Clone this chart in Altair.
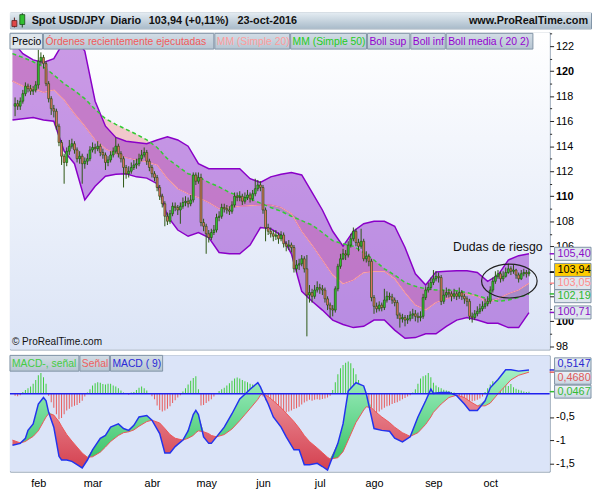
import altair as alt
import pandas as pd

# ---------------- data ----------------
FIRST = -9            # trading-day index of first candle (0 = 1 Feb 2016)
OPEN0 = 117.2
close = [117.4, 117.2, 117.6, 118.2, 118.8, 118.6, 118.4, 118.5, 118.9,
         120.8, 121.1, 120.6, 119.0, 117.8, 117.0, 116.8, 115.6, 114.3, 113.2,
         112.7, 113.6, 114.0, 114.2, 113.7, 113.0, 113.2, 112.6, 112.8, 113.0,
         113.7, 113.9, 113.8, 114.0, 113.5, 113.3, 112.7, 112.9, 113.3, 113.6,
         114.0, 113.4, 113.0, 112.3, 111.8, 112.0, 112.3, 112.5, 112.6, 113.0,
         113.3, 113.5, 112.8, 112.3, 111.8, 111.5, 110.7, 110.0, 109.4, 108.4,
         108.0, 108.6, 109.2, 109.1, 108.9, 109.2, 109.5, 109.6, 109.4, 109.7,
         111.7, 111.2, 111.5, 107.9, 107.6, 107.0, 106.7, 107.1, 107.3, 108.3,
         108.4, 109.1, 109.0, 108.9, 108.8, 109.3, 110.0, 109.9, 110.0, 109.6,
         109.9, 110.1, 109.8, 110.2, 110.6, 110.9, 110.7, 108.9, 107.5, 107.2,
         107.0, 106.8, 106.9, 106.6, 106.9, 106.2, 106.0, 106.1, 105.9, 104.2,
         104.5, 104.6, 105.0, 104.2, 102.1, 102.3, 102.0, 102.5, 102.7, 102.6,
         102.5, 101.8, 101.3, 101.0, 100.9, 102.6, 104.4, 105.0, 105.4, 105.3,
         106.1, 106.6, 107.2, 106.3, 106.0, 106.4, 105.0, 105.2, 104.8, 101.9,
         101.2, 101.0, 101.3, 101.1, 101.7, 102.0, 101.95, 101.7, 101.5, 100.5,
         100.2, 100.3, 100.1, 100.2, 100.5, 100.6, 100.4, 100.3, 100.4, 101.9,
         102.5, 102.7, 103.1, 103.4, 103.6, 103.5, 101.6, 102.1, 102.3, 102.2,
         102.0, 102.2, 102.0, 102.3, 102.0, 101.8, 101.6, 100.4, 100.3, 100.6,
         100.8, 101.0, 101.2, 101.4, 101.6, 102.5, 103.2, 103.6, 103.8, 103.4,
         103.6, 103.9, 104.2, 104.0, 104.1, 103.7, 103.4, 103.8, 103.9, 103.8, 103.94]
high = [117.9, 117.7, 117.9, 118.5, 119.1, 119.0, 118.9, 118.8, 119.2,
        121.7, 121.5, 121.3, 120.8, 119.2, 118.0, 117.3, 117.0, 115.8, 114.5,
        113.4, 113.9, 114.5, 114.6, 114.4, 113.9, 113.6, 113.4, 113.1, 113.4,
        114.0, 114.3, 114.2, 114.4, 114.2, 113.8, 113.5, 113.2, 113.6, 113.9,
        114.7, 114.2, 113.6, 113.2, 112.5, 112.4, 112.7, 112.9, 113.0, 113.4,
        113.7, 113.9, 113.7, 113.0, 112.5, 112.0, 111.7, 110.9, 110.2, 109.6,
        108.7, 108.9, 109.5, 109.5, 109.3, 109.5, 109.9, 110.0, 109.9, 110.1,
        111.9, 111.9, 111.9, 111.8, 108.2, 107.8, 107.3, 107.4, 107.7, 108.6,
        108.8, 109.4, 109.4, 109.3, 109.2, 109.6, 110.3, 110.3, 110.4, 110.2,
        110.3, 110.5, 110.3, 110.5, 111.4, 111.3, 111.2, 110.9, 109.1, 107.8,
        107.5, 107.3, 107.3, 107.1, 107.2, 107.1, 106.4, 106.5, 106.3, 106.1,
        104.9, 105.0, 105.3, 105.2, 105.3, 102.9, 102.6, 102.9, 103.2, 103.0,
        102.9, 102.7, 102.0, 101.5, 101.3, 102.8, 104.6, 105.4, 105.8, 105.7,
        106.4, 107.0, 107.5, 107.4, 106.6, 107.4, 106.6, 105.6, 105.4, 105.0,
        102.1, 101.5, 101.6, 101.5, 102.6, 102.4, 102.3, 102.2, 101.9, 101.7,
        100.7, 100.6, 100.5, 100.5, 100.8, 101.0, 100.9, 100.7, 100.8, 102.2,
        102.8, 103.1, 103.5, 104.1, 104.0, 103.9, 103.7, 102.5, 102.7, 102.6,
        102.4, 102.6, 102.4, 102.7, 102.5, 102.2, 102.0, 101.8, 100.7, 100.9,
        101.2, 101.4, 101.6, 101.8, 102.0, 102.8, 103.5, 104.0, 104.1, 104.0,
        104.0, 104.3, 104.6, 104.4, 104.5, 104.2, 103.9, 104.1, 104.2, 104.1, 104.2]
low = [116.4, 116.9, 116.9, 117.4, 118.0, 118.3, 118.1, 118.1, 118.3,
       118.6, 120.5, 120.2, 118.8, 117.5, 116.5, 116.3, 115.3, 114.0, 112.5,
       111.0, 112.4, 113.3, 113.8, 113.4, 112.7, 112.6, 111.0, 112.2, 112.5,
       112.8, 113.5, 113.4, 113.6, 113.2, 113.0, 112.1, 112.4, 112.7, 113.1,
       113.4, 113.1, 112.7, 110.7, 111.4, 111.5, 111.8, 112.1, 112.2, 112.4,
       112.8, 113.1, 112.5, 112.0, 111.5, 111.2, 110.4, 109.7, 109.1, 107.6,
       107.7, 107.8, 108.4, 108.8, 108.5, 107.8, 109.0, 109.2, 109.1, 109.2,
       109.5, 110.9, 111.0, 107.6, 107.2, 105.4, 106.3, 106.5, 106.9, 107.1,
       108.0, 108.2, 108.7, 108.6, 108.5, 108.6, 109.1, 109.6, 109.6, 109.3,
       109.4, 109.7, 109.5, 109.6, 110.0, 110.4, 110.4, 108.6, 106.4, 106.9,
       106.7, 106.4, 106.5, 106.2, 106.4, 105.9, 105.6, 105.7, 105.5, 103.9,
       103.9, 104.1, 104.4, 103.9, 98.8, 101.5, 101.5, 101.8, 102.3, 102.2,
       102.1, 101.5, 100.9, 100.3, 100.4, 100.7, 102.4, 104.2, 104.9, 104.9,
       105.1, 105.9, 106.4, 106.0, 105.6, 105.8, 104.8, 104.7, 104.4, 101.6,
       100.6, 100.7, 100.8, 100.8, 100.9, 101.5, 101.7, 101.4, 101.2, 100.2,
       99.5, 99.9, 99.6, 99.8, 100.0, 100.2, 100.0, 99.9, 100.0, 100.2,
       101.7, 102.3, 102.5, 102.9, 103.2, 103.1, 101.3, 101.4, 101.9, 101.9,
       101.6, 101.8, 101.7, 101.8, 101.7, 101.4, 101.2, 100.1, 99.9, 100.1,
       100.4, 100.6, 100.8, 101.0, 101.2, 101.4, 102.3, 103.0, 103.4, 103.1,
       103.2, 103.5, 103.8, 103.7, 103.8, 103.4, 103.1, 103.3, 103.6, 103.5, 103.6]

band_idx = list(range(-10, 191, 4))
boll_sup = [122.4, 121.4, 120.9, 120.7, 121.0, 122.4, 122.7, 121.6, 117.6, 115.6,
            114.7, 114.4, 114.3, 114.2, 114.5, 114.75, 114.5, 114.0, 112.6, 112.2,
            112.2, 112.2, 112.2, 111.4, 111.1, 111.55, 111.75, 111.9, 111.7, 110.3,
            108.9, 107.2, 106.0, 107.2, 107.8, 108.0, 108.0, 107.6, 105.9, 103.8,
            102.9, 103.95, 104.0, 104.05, 104.05, 103.9, 103.2, 103.7, 104.9, 105.25, 105.4]
boll_inf = [116.1, 116.2, 116.3, 116.1, 116.0, 113.6, 112.6, 109.7, 110.8, 111.6,
            111.75, 111.8, 111.55, 111.45, 111.0, 108.4, 107.3, 106.8, 107.1, 106.7,
            105.5, 105.4, 105.4, 106.1, 107.5, 107.4, 106.9, 105.4, 102.4, 101.6,
            100.9, 100.1, 99.75, 99.5, 99.6, 100.1, 100.1, 99.3, 98.65, 98.7,
            99.0, 99.0, 99.6, 100.1, 100.3, 100.1, 99.85, 99.85, 99.5, 99.5, 100.7]
boll_mid = [119.2, 118.8, 118.6, 118.3, 118.5, 117.7, 116.6, 115.6, 114.5, 113.8,
            113.4, 113.1, 112.9, 112.75, 112.5, 111.4, 110.6, 110.2, 109.9, 109.5,
            109.0, 109.1, 109.2, 109.25, 109.3, 109.3, 109.1, 108.6, 107.2, 106.1,
            104.9, 103.7, 103.0, 103.3, 103.9, 104.0, 104.0, 103.4, 102.3, 101.3,
            100.9, 101.5, 101.8, 102.1, 102.2, 102.0, 101.5, 101.8, 102.2, 102.5, 103.05]
sma50 = [121.4, 121.1, 120.75, 120.35, 119.7, 119.0, 118.45, 117.8, 116.95, 116.2,
         115.75, 115.35, 114.95, 114.5, 113.9, 113.0, 112.4, 111.8, 111.55, 111.1,
         110.75, 110.3, 110.0, 109.8, 109.45, 109.1, 108.8, 108.4, 108.05, 107.7,
         107.1, 106.45, 106.2, 106.0, 105.5, 104.9, 104.2, 103.7, 103.1, 102.8,
         102.6, 102.5, 102.5, 102.45, 102.3, 102.05, 101.8, 101.6, 101.7, 101.9, 102.19]

macd_idx = [-10, -7, -5, -4, -2, 0, 2, 3, 4, 6,
            8, 9, 11, 13, 15, 17, 19, 21, 24, 26,
            28, 31, 33, 35, 37, 39, 42, 44, 47, 49,
            51, 53, 56, 58, 60, 61, 62, 64, 66, 67,
            69, 72, 75, 78, 80, 82, 85, 86, 87, 89,
            91, 94, 96, 99, 101, 103, 105, 108, 110, 112,
            113, 116, 118, 120, 123, 126, 127, 129, 130, 133,
            136, 138, 141, 144, 147, 150, 152, 153, 156, 159,
            162, 165, 167, 170, 173, 175, 178, 181, 183, 186, 190]
macd_line = [-1.11, -1.07, -0.96, -0.79, -0.65, -0.22, -0.08, -0.15, -0.40, -0.72,
             -1.35, -1.43, -1.43, -1.46, -1.53, -1.60, -1.43, -1.21, -0.96, -0.90,
             -0.72, -0.65, -0.75, -0.79, -0.68, -0.50, -0.47, -0.57, -0.86, -1.28,
             -1.28, -1.14, -1.00, -0.80, -0.45, -0.36, -0.45, -0.93, -1.07, -1.07,
             -0.93, -0.72, -0.43, -0.11, -0.01, 0.10, 0.24, 0.15, 0.02, -0.22,
             -0.50, -0.72, -0.93, -1.21, -1.21, -1.53, -1.53, -1.50, -1.57, -1.65,
             -1.50, -1.07, -0.65, 0.06, 0.24, 0.17, 0.00, -0.50, -0.75, -0.79,
             -0.81, -0.96, -1.04, -0.93, -0.50, -0.15, 0.10, 0.01, 0.03, 0.03,
             -0.04, -0.22, -0.36, -0.36, -0.15, 0.13, 0.31, 0.52, 0.52, 0.49, 0.5147]
signal_line = [-1.00, -1.06, -1.03, -0.99, -0.92, -0.80, -0.60, -0.50, -0.43, -0.46,
               -0.60, -0.70, -0.88, -1.02, -1.15, -1.28, -1.37, -1.36, -1.26, -1.15,
               -1.03, -0.90, -0.84, -0.82, -0.78, -0.70, -0.60, -0.57, -0.63, -0.75,
               -0.88, -0.96, -1.00, -0.96, -0.90, -0.84, -0.80, -0.82, -0.86, -0.90,
               -0.93, -0.88, -0.76, -0.58, -0.45, -0.32, -0.12, -0.03, 0.00, -0.06,
               -0.15, -0.30, -0.42, -0.60, -0.74, -0.90, -1.03, -1.17, -1.27, -1.37,
               -1.41, -1.38, -1.25, -1.00, -0.62, -0.35, -0.28, -0.30, -0.36, -0.50,
               -0.62, -0.72, -0.84, -0.92, -0.84, -0.66, -0.50, -0.40, -0.22, -0.08,
               -0.03, -0.08, -0.16, -0.26, -0.26, -0.20, 0.00, 0.18, 0.30, 0.40, 0.468]
hist = [-0.04, -0.05, -0.03, 0.04, 0.08, 0.12, 0.16, 0.22, 0.30,
        0.40, 0.45, 0.36, 0.22, -0.04, -0.18, -0.30, -0.44, -0.55, -0.52,
        -0.44, -0.36, -0.32, -0.28, -0.26, -0.24, -0.20, -0.15, -0.06, 0.03,
        0.10, 0.18, 0.23, 0.25, 0.24, 0.21, 0.20, 0.22, 0.22, 0.18,
        0.16, 0.12, 0.07, 0.03, 0.02, -0.02, 0.03, 0.04, 0.08, 0.13,
        0.16, 0.12, 0.07, 0.02, -0.05, -0.12, -0.25, -0.35, -0.38, -0.36,
        -0.32, -0.27, -0.20, -0.14, -0.08, -0.03, 0.05, 0.12, 0.20, 0.28,
        0.34, 0.38, 0.10, -0.25, -0.24, -0.20, -0.16, -0.12, -0.06, 0.02,
        0.06, 0.10, 0.13, 0.18, 0.23, 0.28, 0.33, 0.35, 0.33, 0.30,
        0.27, 0.25, 0.22, 0.20, 0.17, 0.14, 0.08, -0.06, -0.14, -0.20,
        -0.26, -0.31, -0.30, -0.33, -0.37, -0.39, -0.40, -0.38, -0.36, -0.33,
        -0.31, -0.28, -0.23, -0.19, -0.16, -0.13, -0.15, -0.13, -0.12, -0.13,
        -0.11, -0.10, -0.08, -0.04, 0.08, 0.25, 0.42, 0.55, 0.62, 0.67,
        0.70, 0.66, 0.55, 0.42, 0.30, 0.15, 0.04, -0.06, -0.18, -0.30,
        -0.38, -0.42, -0.38, -0.34, -0.30, -0.27, -0.25, -0.22, -0.20, -0.18,
        -0.15, -0.12, -0.09, -0.06, -0.03, 0.03, 0.10, 0.22, 0.33, 0.38,
        0.40, 0.45, 0.36, 0.24, 0.18, 0.14, 0.12, 0.09, 0.07, 0.06,
        0.04, 0.03, 0.01, -0.05, -0.10, -0.15, -0.19, -0.20, -0.16, -0.15,
        -0.13, -0.10, -0.06, 0.04, 0.12, 0.20, 0.27, 0.26, 0.23, 0.22,
        0.25, 0.20, 0.17, 0.21, 0.14, 0.11, 0.09, 0.07, 0.05, 0.04, 0.0467]

month_idx = [0, 21, 44, 65, 87, 109, 130, 153, 175]
month_lab = ['feb', 'mar', 'abr', 'may', 'jun', 'jul', 'ago', 'sep', 'oct']

price_last = [105.40, 103.94, 103.05, 102.19, 100.71]
price_last_txt = ['105,40', '103,94', '103,05', '102,19', '100,71']
price_last_col = ['#8a10c8', '#000000', '#ff8c8c', '#2db82d', '#8a10c8']
price_last_fill = ['#dfe6ee', '#ffcc00', '#dfe6ee', '#dfe6ee', '#dfe6ee']
macd_last = [0.5147, 0.4680, 0.0467]
macd_last_txt = ['0,5147', '0,4680', '0,0467']
macd_last_col = ['#2a2ad0', '#e05a5a', '#33bb33']

# ---------------- layout ----------------
W, HP, HM, HH, HW = 548, 322, 118, 16, 590
XD = [-9.07, 196.1]
PD = [97.75, 123.1]
MD = [-1.68, 0.83]
FONT = 'Liberation Sans'


def grad(c0, c1):
    return alt.Gradient(gradient='linear',
                        stops=[alt.GradientStop(color=c0, offset=0),
                               alt.GradientStop(color=c1, offset=1)],
                        x1=0, x2=0, y1=0, y2=1)


def spread(vals, gap):
    pos = list(vals)
    for _ in range(60):
        for k in range(len(pos) - 1):
            d = pos[k] - pos[k + 1]
            if d < gap:
                s = (gap - d) / 2
                pos[k] += s
                pos[k + 1] -= s
    return pos


one = pd.DataFrame({'k': [0]})

# candles
n = len(close)
opens = [OPEN0] + close[:-1]
cdf = pd.DataFrame({'i': list(range(FIRST, FIRST + n)), 'o': opens, 'c': close,
                    'h': high, 'l': low})
cdf['dir'] = ['u' if c >= o else 'd' for o, c in zip(opens, close)]

bdf = pd.DataFrame({'i': band_idx, 'up': boll_sup, 'lo': boll_inf,
                    'mid': boll_mid, 's50': sma50})
bdf['top'] = [max(a, b) for a, b in zip(boll_mid, sma50)]

mdf = pd.DataFrame({'i': macd_idx, 'm': macd_line, 's': signal_line})
mdf['hi'] = [max(a, b) for a, b in zip(macd_line, signal_line)]
hdf = pd.DataFrame({'i': list(range(FIRST, FIRST + len(hist))), 'h': hist})

pp = spread(price_last, 1.05)
mp = spread(macd_last, 0.29)
hidden = [v for v in range(98, 124, 2) if any(abs(v - p) < 0.45 for p in pp)]
hidden_js = '[' + ','.join(str(v) for v in hidden) + ']'

xs = alt.Scale(domain=XD, nice=False, zero=False)
ys = alt.Scale(domain=PD, nice=False, zero=False)
ms = alt.Scale(domain=MD, nice=False, zero=False)

yax = alt.Axis(orient='right', title=None, values=list(range(98, 124)),
               labelExpr=f"(datum.value % 2 != 0 || indexof({hidden_js}, datum.value) >= 0) ? '' : toString(datum.value)",
               tickSize={'condition': {'test': 'datum.value % 2 != 0', 'value': 2}, 'value': 4},
               labelFontWeight={'condition': {'test': 'datum.value % 10 == 0', 'value': 'bold'},
                                'value': 'normal'},
               labelPadding=2, domain=False, grid=False)
mexpr = ' : '.join(f"datum.value == {v} ? '{l}'" for v, l in zip(month_idx, month_lab)) + " : ''"
xax = alt.Axis(orient='bottom', title=None, values=month_idx, labelExpr=mexpr,
               ticks=False, labelPadding=6, domain=False, grid=False)
max_ = alt.Axis(orient='right', title=None, values=[-1.5, -1, -0.5],
                labelExpr="replace(toString(datum.value), '.', ',')",
                tickSize=4, labelPadding=2, domain=False, grid=False)

X = alt.X('i:Q', scale=xs, axis=None)


def Y(f):
    return alt.Y(f, scale=ys, axis=yax)


# ---------------- header ----------------
hdr = [alt.Chart(one).mark_rect(fill=grad('#e4ecf2', '#aabccb')).encode(
    x=alt.value(0), x2=alt.value(HW), y=alt.value(0), y2=alt.value(HH))]
hdr.append(alt.Chart(one).mark_rule(color='#5a2020').encode(x=alt.value(4.5), y=alt.value(5), y2=alt.value(15)))
hdr.append(alt.Chart(one).mark_rect(fill='#e04848', stroke='#602020', strokeWidth=0.8).encode(
    x=alt.value(2), x2=alt.value(7), y=alt.value(8), y2=alt.value(14)))
hdr.append(alt.Chart(one).mark_rule(color='#1a4a1a').encode(x=alt.value(12.5), y=alt.value(0.5), y2=alt.value(15)))
hdr.append(alt.Chart(one).mark_rect(fill='#30c030', stroke='#1a4a1a', strokeWidth=0.8).encode(
    x=alt.value(10), x2=alt.value(15), y=alt.value(2), y2=alt.value(12)))
for t, xx, al in [('Spot USD/JPY', 22, 'left'), ('Diario', 102, 'left'),
                  ('103,94 (+0,11%)', 141, 'left'), ('23-oct-2016', 231, 'left'),
                  ('www.ProRealTime.com', HW - 3, 'right')]:
    hdr.append(alt.Chart(one).mark_text(text=t, font=FONT, fontWeight='bold',
                                        fontSize=11, color='#111111', align=al,
                                        baseline='middle').encode(x=alt.value(xx), y=alt.value(8.5)))
header = alt.layer(*hdr).properties(width=HW, height=HH)

# ---------------- price panel ----------------
P = []
P.append(alt.Chart(one).mark_rect(fill=grad('#ffffff', '#dbe4f6')).encode(
    x=alt.value(0), x2=alt.value(W), y=alt.value(0), y2=alt.value(HP)))
P.append(alt.Chart(bdf).mark_area(color='#f09a9a', opacity=0.5, clip=True).encode(
    x=X, y=Y('mid:Q'), y2='top:Q'))
P.append(alt.Chart(bdf).mark_area(color='#9ae09a', opacity=0.5, clip=True).encode(
    x=X, y=Y('s50:Q'), y2='top:Q'))
P.append(alt.Chart(bdf).mark_area(color='#8c1ec8', opacity=0.45, clip=True).encode(
    x=X, y=Y('lo:Q'), y2='up:Q'))
for f in ['up', 'lo']:
    P.append(alt.Chart(bdf).mark_line(color='#8a00c8', strokeWidth=1.5, clip=True).encode(x=X, y=Y(f + ':Q')))
P.append(alt.Chart(bdf).mark_line(color='#9a20d0', strokeWidth=1, clip=True).encode(x=X, y=Y('mid:Q')))
P.append(alt.Chart(bdf).mark_line(color='#f7a3a3', strokeWidth=1.2, clip=True).encode(x=X, y=Y('mid:Q')))
P.append(alt.Chart(bdf).mark_line(color='#33cc33', strokeWidth=1.5, strokeDash=[4, 3], clip=True).encode(
    x=X, y=Y('s50:Q')))
P.append(alt.Chart(cdf).mark_rule(color='#2b5512', strokeWidth=1, clip=True).encode(
    x=X, y=Y('l:Q'), y2='h:Q'))
P.append(alt.Chart(cdf).mark_bar(size=1.9, stroke='#24500e', strokeWidth=0.7, clip=True).encode(
    x=X, y=Y('o:Q'), y2='c:Q',
    fill=alt.Fill('dir:N', scale=alt.Scale(domain=['u', 'd'], range=['#33cc33', '#ee7766']), legend=None)))
# annotation
ann_txt = pd.DataFrame({'i': [160.6], 'v': [105.9]})
ann_ell = pd.DataFrame({'i': [182.4], 'v': [103.22]})
P.append(alt.Chart(ann_txt).mark_text(text='Dudas de riesgo', font=FONT, fontSize=12.5, color='#111111',
                                      align='left', baseline='middle').encode(x=X, y=Y('v:Q')))
P.append(alt.Chart(ann_ell).mark_point(shape='M-1,0A1,0.61,0,1,1,1,0A1,0.61,0,1,1,-1,0Z', size=3180,
                                       filled=False, stroke='#222222', strokeWidth=1.2, opacity=1).encode(
    x=X, y=Y('v:Q')))
P.append(alt.Chart(one).mark_text(text='\u00a9 ProRealTime.com', font=FONT, fontSize=10.2, color='#111111',
                                  align='left', baseline='middle').encode(x=alt.value(2), y=alt.value(HP - 8)))
# legend bar
leg = [('Precio', 0, 33, '#000000', '#dfe6ec'),
       ('\u00d3rdenes recientemente ejecutadas', 34, 207, '#f05a5a', None),
       ('MM (Simple 20)', 208, 284, '#ff9c9c', None),
       ('MM (Simple 50)', 285, 362, '#22cc22', None),
       ('Boll sup', 363, 406, '#9400d0', None),
       ('Boll inf', 407, 442, '#9400d0', None),
       ('Boll media ( 20 2)', 443, 531, '#9400d0', None)]
for lab, x0, x1, col, fill in leg:
    P.append(alt.Chart(one).mark_rect(fill=fill if fill else grad('#d3dde6', '#b6c5d2'),
                                      stroke='#8193a6', strokeWidth=1).encode(
        x=alt.value(x0), x2=alt.value(x1), y=alt.value(1), y2=alt.value(17)))
    P.append(alt.Chart(one).mark_text(text=lab, font=FONT, fontSize=10.5, color=col, align='left',
                                      baseline='middle').encode(x=alt.value(x0 + 2), y=alt.value(9.5)))
# last values on the axis
pl = pd.DataFrame({'v': price_last, 'pos': pp, 'y0': [p + 0.52 for p in pp], 'y1': [p - 0.52 for p in pp],
                   'txt': price_last_txt, 'col': price_last_col, 'fill': price_last_fill})
P.append(alt.Chart(pl).mark_rule(strokeWidth=1.5).encode(
    x=alt.value(W), x2=alt.value(W + 5), y=Y('v:Q'), color=alt.Color('col:N', scale=None)))
P.append(alt.Chart(pl).mark_rect(stroke='#7d90a4', strokeWidth=1).encode(
    x=alt.value(W + 5), x2=alt.value(W + 42), y=Y('y0:Q'), y2='y1:Q', fill=alt.Fill('fill:N', scale=None)))
P.append(alt.Chart(pl).mark_text(font=FONT, fontSize=11, align='left', baseline='middle').encode(
    x=alt.value(W + 8), y=Y('pos:Q'), text='txt:N', color=alt.Color('col:N', scale=None)))
price = alt.layer(*P).properties(width=W, height=HP)

# ---------------- MACD panel ----------------
XM = alt.X('i:Q', scale=xs, axis=xax)


def YM(f):
    return alt.Y(f, scale=ms, axis=max_)


M = []
M.append(alt.Chart(one).mark_rect(fill='#dbe4f8').encode(
    x=alt.value(0), x2=alt.value(W), y=alt.value(0), y2=alt.value(HM)))
M.append(alt.Chart(hdf).mark_bar(size=1, clip=True).encode(
    x=XM, y=YM('h:Q'), y2=alt.datum(0),
    color=alt.condition('datum.h >= 0', alt.value('#3fcc3f'), alt.value('#e85a5a'))))
M.append(alt.Chart(mdf).mark_area(fill=grad('#f2a8b0', '#d4404f'), clip=True).encode(
    x=XM, y=YM('m:Q'), y2='hi:Q'))
M.append(alt.Chart(mdf).mark_area(fill=grad('#a6f0c4', '#3cc46a'), clip=True).encode(
    x=XM, y=YM('s:Q'), y2='hi:Q'))
M.append(alt.Chart(mdf).mark_line(color='#ee5555', strokeWidth=1, clip=True).encode(x=XM, y=YM('s:Q')))
M.append(alt.Chart(mdf).mark_line(color='#2233ee', strokeWidth=1.5, clip=True).encode(x=XM, y=YM('m:Q')))
M.append(alt.Chart(one).mark_rule(color='#2020ee', strokeWidth=1.5).encode(y=alt.datum(0)))
mleg = [('MACD-, se\u00f1al', 0, 70, '#44cc44'), ('Se\u00f1al', 71, 101, '#ee6060'),
        ('MACD ( 9)', 102, 155, '#2a2ad8')]
for lab, x0, x1, col in mleg:
    M.append(alt.Chart(one).mark_rect(fill=grad('#d3dde6', '#b6c5d2'), stroke='#8193a6', strokeWidth=1).encode(
        x=alt.value(x0), x2=alt.value(x1), y=alt.value(0), y2=alt.value(16)))
    M.append(alt.Chart(one).mark_text(text=lab, font=FONT, fontSize=10.5, color=col, align='left',
                                      baseline='middle').encode(x=alt.value(x0 + 2), y=alt.value(8.5)))
ml = pd.DataFrame({'v': macd_last, 'pos': mp, 'y0': [p + 0.14 for p in mp], 'y1': [p - 0.14 for p in mp],
                   'txt': macd_last_txt, 'col': macd_last_col})
M.append(alt.Chart(ml).mark_rule(strokeWidth=1.5).encode(
    x=alt.value(W), x2=alt.value(W + 5), y=YM('v:Q'), color=alt.Color('col:N', scale=None)))
M.append(alt.Chart(ml).mark_rect(fill=grad('#eef3f8', '#c9d5e2'), stroke='#7d90a4', strokeWidth=1).encode(
    x=alt.value(W + 5), x2=alt.value(W + 42), y=YM('y0:Q'), y2='y1:Q'))
M.append(alt.Chart(ml).mark_text(font=FONT, fontSize=11, align='left', baseline='middle').encode(
    x=alt.value(W + 8), y=YM('pos:Q'), text='txt:N', color=alt.Color('col:N', scale=None)))
macd = alt.layer(*M).properties(width=W, height=HM)

chart = alt.vconcat(header, price, macd, spacing=2).configure_view(
    stroke='#7f92a6', strokeWidth=1).configure_axis(
    labelFont=FONT, labelFontSize=11, labelColor='#000000', tickColor='#222222').properties(padding=0)

chart.save("out.html", embed_options={"renderer": "svg", "actions": False})
